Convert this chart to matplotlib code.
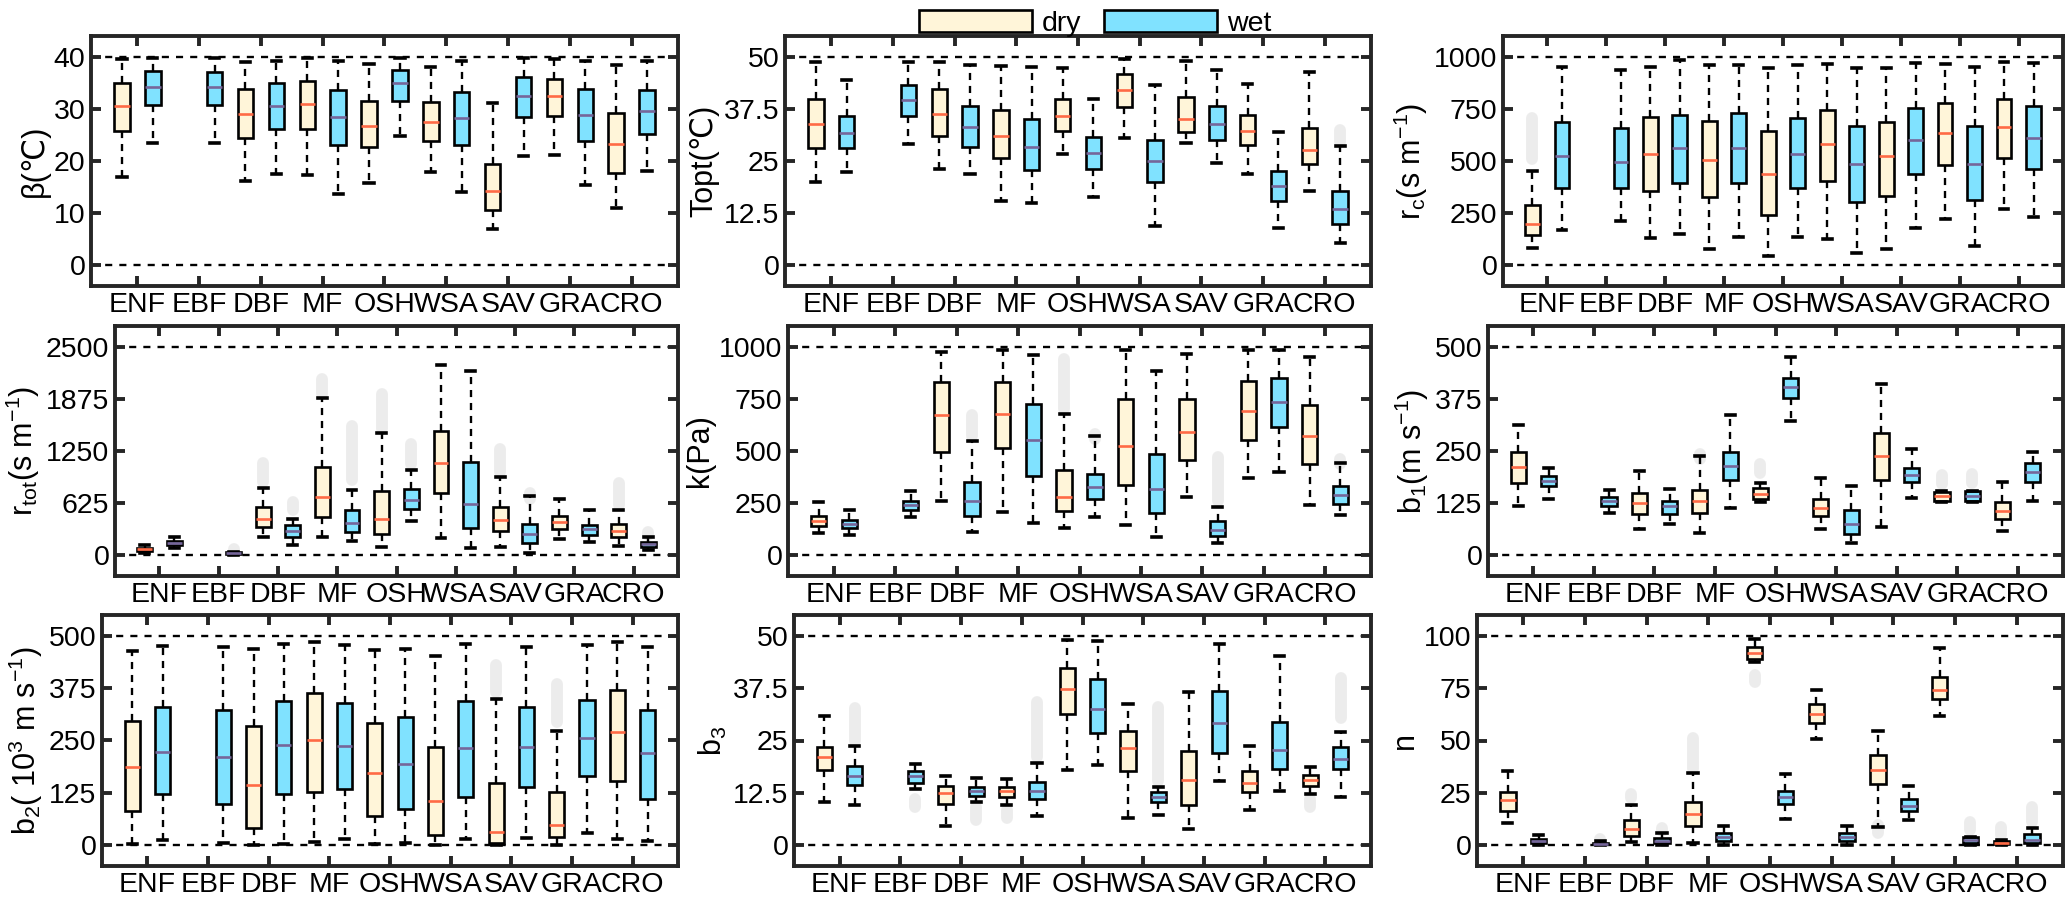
import matplotlib
matplotlib.use("Agg")
import matplotlib.pyplot as plt
from matplotlib import font_manager
from matplotlib.patches import Patch

names = {f.name for f in font_manager.fontManager.ttflist}
if "Liberation Sans Narrow" in names:
    plt.rcParams['font.family'] = ['Liberation Sans Narrow', 'DejaVu Sans']
    tick_fs, lab_fs = 23.5, 25
else:
    plt.rcParams['font.family'] = ['Liberation Sans', 'DejaVu Sans']
    tick_fs, lab_fs = 20.5, 22
plt.rcParams['mathtext.default'] = 'regular'

classes = ["ENF", "EBF", "DBF", "MF", "OSH", "WSA", "SAV", "GRA", "CRO"]

# each box: [low whisker, q1, median, q3, high whisker]; None = no data
beta_dry = [[17.0, 25.7, 30.5, 34.9, 39.5], None, [16.2, 24.4, 29.1, 33.8, 39.0],
            [17.4, 26.2, 31.0, 35.3, 39.7], [15.8, 22.6, 26.8, 31.6, 38.6],
            [17.9, 23.8, 27.5, 31.3, 38.1], [6.9, 10.5, 14.3, 19.4, 31.2],
            [21.2, 28.6, 32.5, 35.8, 39.5], [10.9, 17.6, 23.3, 29.3, 38.5]]
beta_wet = [[23.5, 30.7, 34.3, 37.3, 39.7], [23.5, 30.7, 34.2, 37.1, 39.8],
            [17.5, 26.2, 30.5, 35.0, 39.2], [13.7, 23.0, 28.4, 33.6, 39.2],
            [24.8, 31.5, 34.9, 37.5, 39.8], [14.1, 23.0, 28.2, 33.2, 39.2],
            [21.0, 28.4, 32.5, 36.1, 39.7], [15.4, 23.9, 28.9, 33.8, 39.2],
            [18.1, 25.1, 29.6, 33.7, 39.2]]

topt_dry = [[19.9, 28.1, 33.8, 40.0, 48.8], None, [23.1, 30.9, 36.2, 42.2, 48.8],
            [15.4, 25.8, 30.9, 37.2, 47.8], [26.7, 32.1, 35.8, 40.0, 47.4],
            [30.5, 37.9, 42.0, 45.8, 49.4], [29.3, 31.9, 35.1, 40.4, 48.9],
            [21.9, 28.9, 32.2, 36.0, 43.4], [17.7, 24.3, 27.6, 33.0, 46.4]]
topt_wet = [[22.3, 28.1, 31.8, 35.8, 44.5], [29.2, 35.8, 39.7, 43.3, 48.8],
            [21.9, 28.3, 33.1, 38.3, 48.0], [14.9, 22.8, 28.4, 35.0, 47.6],
            [16.3, 23.1, 26.8, 30.7, 40.0], [9.4, 19.9, 25.1, 30.1, 43.2],
            [24.5, 30.1, 33.9, 38.2, 46.9], [8.8, 15.4, 18.9, 22.7, 32.0],
            [5.4, 9.8, 13.5, 17.8, 28.5]]

rc_dry = [[80, 143, 198, 289, 450], None, [130, 354, 535, 712, 952],
          [76, 328, 505, 690, 960], [43, 241, 436, 643, 945],
          [127, 405, 582, 744, 965], [76, 333, 522, 687, 945],
          [220, 479, 635, 780, 966], [268, 514, 664, 799, 976]]
rc_wet = [[170, 368, 522, 688, 952], [211, 368, 495, 656, 937],
          [150, 394, 561, 722, 984], [133, 394, 561, 728, 960],
          [133, 368, 534, 706, 960], [59, 302, 486, 666, 945],
          [180, 439, 603, 754, 968], [92, 314, 486, 666, 949],
          [230, 461, 611, 764, 968]]

rtot_dry = [[32, 52, 72, 92, 121], None, [221, 342, 438, 575, 812],
            [221, 462, 695, 1057, 1889], [100, 253, 434, 776, 1467],
            [201, 744, 1105, 1487, 2279], [100, 285, 422, 583, 936],
            [193, 313, 394, 470, 671], [113, 217, 293, 374, 543]]
rtot_wet = [[92, 117, 149, 173, 221], [8, 16, 24, 36, 40],
            [125, 217, 293, 358, 430], [173, 277, 382, 543, 784],
            [414, 559, 663, 792, 1025], [92, 330, 615, 1121, 2210],
            [32, 141, 249, 370, 711], [153, 241, 309, 358, 543],
            [60, 100, 129, 153, 221]]

k_dry = [[105, 138, 166, 188, 257], None, [260, 495, 672, 831, 977],
         [206, 513, 680, 831, 984], [130, 214, 281, 410, 678],
         [143, 338, 522, 752, 984], [281, 458, 593, 748, 965],
         [370, 553, 690, 834, 984], [241, 439, 571, 722, 953]]
k_wet = [[96, 130, 148, 167, 217], [182, 217, 241, 262, 310],
         [113, 190, 260, 349, 547], [156, 381, 553, 725, 960],
         [185, 270, 326, 389, 571], [85, 201, 317, 486, 884],
         [59, 90, 121, 162, 233], [397, 614, 735, 850, 984],
         [191, 248, 289, 330, 442]]

b1_dry = [[118, 174, 212, 248, 313], None, [64, 99, 125, 150, 201],
          [54, 102, 129, 157, 237], [128, 134, 146, 161, 174],
          [62, 94, 113, 136, 185], [68, 180, 239, 293, 410],
          [127, 131, 141, 152, 153], [59, 88, 107, 127, 175]]
b1_wet = [[134, 166, 178, 189, 209], [102, 118, 130, 139, 157],
          [76, 100, 117, 131, 158], [113, 181, 215, 248, 336],
          [323, 378, 404, 426, 476], [30, 52, 76, 109, 165],
          [138, 176, 193, 209, 256], [127, 131, 141, 153, 153],
          [129, 176, 199, 221, 247]]

b2_dry = [[2, 81, 187, 297, 465], None, [1, 40, 143, 284, 468],
          [7, 128, 252, 364, 486], [2, 69, 173, 293, 466],
          [1, 25, 106, 234, 452], [1, 5, 32, 149, 349],
          [1, 20, 49, 127, 273], [14, 153, 270, 371, 485]]
b2_wet = [[12, 121, 223, 329, 476], [6, 98, 211, 324, 474],
          [2, 123, 239, 345, 480], [15, 135, 237, 339, 478],
          [5, 87, 194, 305, 468], [15, 115, 231, 344, 481],
          [17, 139, 235, 331, 474], [28, 165, 257, 347, 478],
          [9, 109, 219, 323, 473]]

b3_dry = [[10.3, 17.9, 21.0, 23.5, 30.9], None, [4.5, 9.9, 12.5, 14.1, 16.5],
          [9.5, 11.4, 12.9, 14.0, 15.7], [18.0, 31.3, 37.3, 42.4, 49.0],
          [6.5, 17.6, 23.1, 27.2, 33.7], [3.8, 9.5, 15.6, 22.6, 36.5],
          [8.5, 12.7, 14.9, 17.6, 23.6], [12.3, 14.2, 15.6, 16.8, 18.6]]
b3_wet = [[9.5, 14.4, 16.4, 18.8, 23.6], [13.5, 14.8, 16.4, 17.6, 19.4],
          [10.3, 11.7, 12.9, 14.0, 16.1], [6.9, 10.9, 12.9, 15.1, 19.6],
          [19.2, 26.7, 32.5, 39.8, 48.8], [7.3, 10.4, 11.5, 12.8, 14.0],
          [15.2, 21.9, 29.3, 36.9, 48.0], [13.0, 18.1, 22.7, 29.4, 45.2],
          [11.4, 18.2, 20.6, 23.4, 27.0]]

n_dry = [[10.5, 16.3, 21.5, 25.6, 35.5], None, [1.3, 4.2, 7.9, 12.1, 19.0],
         [1.1, 9.2, 15.0, 20.5, 34.4], [87.3, 88.9, 91.9, 94.8, 98.4],
         [50.5, 58.2, 62.9, 67.4, 74.0], [8.5, 29.0, 36.0, 43.1, 54.5],
         [61.8, 69.8, 74.2, 80.5, 94.0], [0.0, 0.3, 1.0, 2.1, 2.3]]
n_wet = [[0.2, 0.8, 2.1, 3.1, 4.8], [0.0, 0.3, 0.6, 1.0, 1.8],
         [0.2, 1.0, 2.1, 3.4, 6.0], [0.2, 1.8, 3.7, 6.0, 9.2],
         [12.6, 19.5, 23.1, 26.0, 34.0], [0.2, 1.8, 3.7, 5.6, 9.0],
         [11.8, 16.1, 18.5, 21.8, 28.2], [0.2, 1.1, 2.4, 3.7, 4.0],
         [0.2, 0.8, 2.4, 5.3, 8.2]]

# outlier ranges: (slot, lowest, highest); slot = 2*class + (0 dry, 1 wet)
beta_out = []
topt_out = [(17, 29.6, 32.4)]
rc_out = [(0, 510, 705)]
rtot_out = [(3, 50, 70), (4, 880, 1110), (5, 540, 640), (6, 1940, 2110),
            (7, 900, 1550), (8, 1520, 1930), (9, 1100, 1330), (12, 1000, 1270),
            (13, 680, 750), (16, 600, 870), (17, 240, 280)]
k_out = [(5, 570, 675), (8, 700, 940), (9, 560, 580), (13, 260, 470),
         (17, 440, 460)]
b1_out = [(6, 232, 244), (8, 197, 218), (14, 172, 192), (15, 174, 195)]
b2_out = [(12, 365, 430), (14, 295, 385)]
b3_out = [(1, 25.0, 32.7), (3, 9.0, 10.9), (5, 6.0, 9.0), (6, 6.5, 8.3),
          (7, 21.0, 34.3), (11, 15.4, 33.1), (16, 9.0, 11.0), (17, 30.4, 40.0)]
n_out = [(3, 2.5, 3.0), (4, 22.5, 24.5), (5, 6.5, 8.0), (6, 36.5, 51.0),
         (8, 78.0, 81.5), (12, 6.0, 9.5), (15, 7.0, 11.0), (16, 5.0, 8.5),
         (17, 11.0, 18.0)]

panels = [
    ("β(℃)", 40, beta_dry, beta_wet, beta_out),
    ("Topt(℃)", 50, topt_dry, topt_wet, topt_out),
    (r"r$_c$(s m$^{-1}$)", 1000, rc_dry, rc_wet, rc_out),
    (r"r$_{tot}$(s m$^{-1}$)", 2500, rtot_dry, rtot_wet, rtot_out),
    ("k(Pa)", 1000, k_dry, k_wet, k_out),
    (r"b$_1$(m s$^{-1}$)", 500, b1_dry, b1_wet, b1_out),
    (r"b$_2$( 10$^3$ m s$^{-1}$)", 500, b2_dry, b2_wet, b2_out),
    (r"b$_3$", 50, b3_dry, b3_wet, b3_out),
    ("n", 100, n_dry, n_wet, n_out),
]

dry_face, wet_face = "#FFF5D9", "#80E2FF"
dry_med, wet_med = "#FF6A45", "#76669A"
frame_col = "#262626"

W, H = 2067, 898
lefts = [[91, 785, 1503], [115, 788, 1488], [102, 794, 1477]]
rights = [678, 1371, 2063]
tops = [36, 326, 615]
bottoms = [286, 576, 866]

fig = plt.figure(figsize=(W / 100, H / 100), dpi=100)


def stats(box, label):
    lo, q1, med, q3, hi = box
    return dict(whislo=lo, q1=q1, med=med, q3=q3, whishi=hi, fliers=[], label=label)


for i, (ylab, ymax, dry, wet, outl) in enumerate(panels):
    r, c = divmod(i, 3)
    x0, x1 = lefts[r][c], rights[c]
    ax = fig.add_axes([x0 / W, 1 - bottoms[r] / H, (x1 - x0) / W,
                       (bottoms[r] - tops[r]) / H])

    ax.axhline(0, color="k", lw=1.7, dashes=(3, 3), zorder=0)
    ax.axhline(ymax, color="k", lw=1.7, dashes=(3, 3), zorder=0)

    for slot, lo, hi in outl:
        ax.plot([slot, slot], [lo, hi], color="#ECECEC", lw=8.5,
                solid_capstyle="round", zorder=1)

    for series, face, medc, off in [(dry, dry_face, dry_med, 0), (wet, wet_face, wet_med, 1)]:
        pos = [2 * j + off for j, b in enumerate(series) if b is not None]
        st = [stats(b, classes[j]) for j, b in enumerate(series) if b is not None]
        ax.bxp(st, positions=pos, widths=0.5, capwidths=0.3, patch_artist=True,
               showfliers=False, manage_ticks=False,
               boxprops=dict(facecolor=face, edgecolor="k", linewidth=1.9),
               whiskerprops=dict(color="k", linewidth=1.7, dashes=(3, 2.5)),
               capprops=dict(color="k", linewidth=2.6),
               medianprops=dict(color=medc, linewidth=1.9))

    ax.set_xlim(-1, 18)
    ax.set_ylim(-0.1 * ymax, 1.1 * ymax)
    ax.set_xticks([2 * j + 0.5 for j in range(9)])
    ax.set_xticklabels(classes)
    yt = [ymax * f for f in (0, 0.25, 0.5, 0.75, 1)]
    ax.set_yticks(yt)
    ax.set_yticklabels(["%g" % v for v in yt])
    ax.tick_params(direction="in", length=7, width=2.8, color=frame_col,
                   top=True, right=True, labelsize=tick_fs, pad=4)
    for sp in ax.spines.values():
        sp.set_linewidth(2.8)
        sp.set_color(frame_col)
    ax.set_ylabel(ylab, fontsize=lab_fs, labelpad=3)

handles = [Patch(facecolor=dry_face, edgecolor="k", linewidth=1.9, label="dry"),
           Patch(facecolor=wet_face, edgecolor="k", linewidth=1.9, label="wet")]
fig.legend(handles=handles, loc="upper center", bbox_to_anchor=(0.53, 1.008),
           ncol=2, frameon=False, fontsize=tick_fs, handlelength=113 / (tick_fs * 1.389),
           handleheight=24 / (tick_fs * 1.389), handletextpad=0.35, columnspacing=0.8,
           borderpad=0.1)

fig.savefig("out.png", dpi=100)
